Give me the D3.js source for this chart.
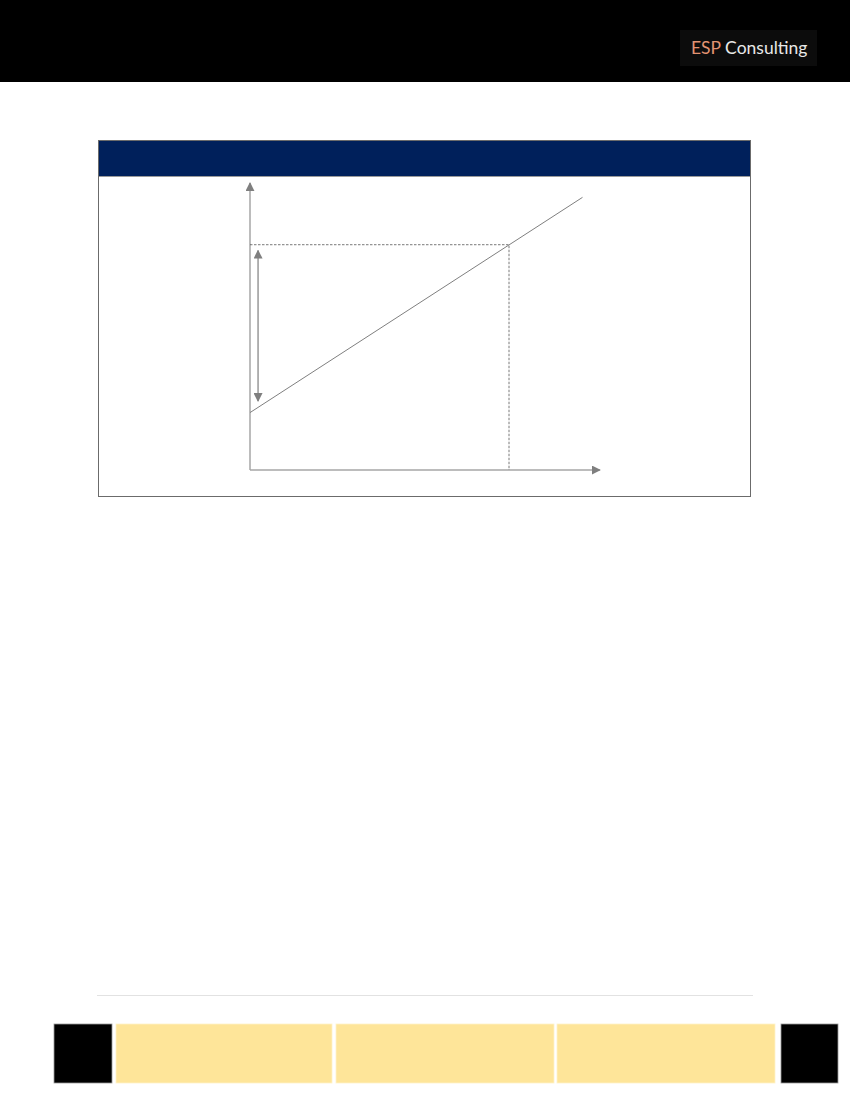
<!DOCTYPE html>
<html>
<head>
<meta charset="utf-8">
<script src="https://cdn.jsdelivr.net/npm/d3@7"></script>
<style>
  body { margin: 0; background: #fff; }
</style>
</head>
<body>
<div id="page"></div>
<script>
const page_w = 850;
const page_h = 1100;

// chart values (arbitrary units, 0-100 on both axes)
const axisMax    = [100, 100];
const linePoints = [[0, 20], [95, 95]];
const markPoint  = [74, 78.5];
const spanArrow  = [[2.3, 76.5], [2.3, 24]];
const footerBoxes = ['dark', 'light', 'light', 'light', 'dark'];

let svg = d3.select('#page')
            .append('svg')
            .attr('width', page_w)
            .attr('height', page_h);

// top banner
svg.append('rect')
   .attr('x', 0).attr('y', 0)
   .attr('width', page_w).attr('height', 82)
   .attr('fill', '#000');

svg.append('rect')
   .attr('x', 680).attr('y', 30)
   .attr('width', 137).attr('height', 36)
   .attr('fill', '#0c0c0c');

let brand = svg.append('text')
   .attr('x', 691).attr('y', 54)
   .attr('font-family', 'Lato, "Open Sans", sans-serif')
   .attr('font-size', 17.5);
brand.append('tspan').attr('fill', '#e39372').text('ESP');
brand.append('tspan').attr('fill', '#e8e8e8').text(' Consulting');

// chart frame
svg.append('rect')
   .attr('x', 98.5).attr('y', 140.5)
   .attr('width', 652).attr('height', 356)
   .attr('fill', '#fff')
   .attr('stroke', '#6b6b6b');

svg.append('rect')
   .attr('x', 99).attr('y', 141)
   .attr('width', 651).attr('height', 35)
   .attr('fill', '#00205b');

svg.append('line')
   .attr('x1', 99).attr('x2', 750)
   .attr('y1', 176.5).attr('y2', 176.5)
   .attr('stroke', '#9a9a9a');

// arrowheads
let defs = svg.append('defs');
defs.append('marker')
    .attr('id', 'head')
    .attr('viewBox', '0 0 10 10')
    .attr('refX', 9).attr('refY', 5)
    .attr('markerWidth', 9).attr('markerHeight', 9)
    .attr('markerUnits', 'userSpaceOnUse')
    .attr('orient', 'auto-start-reverse')
    .append('path')
    .attr('d', 'M0,0 L10,5 L0,10 Z')
    .attr('fill', '#7f7f7f');

let x = d3.scaleLinear().domain([0, axisMax[0]]).range([250, 600]);
let y = d3.scaleLinear().domain([0, axisMax[1]]).range([470, 183]);

let g = svg.append('g');

// axes
g.append('line')
 .attr('x1', x(0)).attr('y1', y(0))
 .attr('x2', x(0)).attr('y2', y(axisMax[1]))
 .attr('stroke', '#a6a6a6').attr('stroke-width', 1.5)
 .attr('marker-end', 'url(#head)');

g.append('line')
 .attr('x1', x(0)).attr('y1', y(0))
 .attr('x2', x(axisMax[0])).attr('y2', y(0))
 .attr('stroke', '#a6a6a6').attr('stroke-width', 1.5)
 .attr('marker-end', 'url(#head)');

// guide lines
g.append('path')
 .attr('d', d3.line()([[x(0), y(markPoint[1])], [x(markPoint[0]), y(markPoint[1])], [x(markPoint[0]), y(0)]]))
 .attr('fill', 'none')
 .attr('stroke', '#555')
 .attr('stroke-width', 0.8)
 .attr('stroke-dasharray', '2.5,1.5');

// supply line
g.append('path')
 .datum(linePoints)
 .attr('d', d3.line().x(d => x(d[0])).y(d => y(d[1])))
 .attr('fill', 'none')
 .attr('stroke', '#7f7f7f')
 .attr('stroke-width', 1);

// double arrow
g.append('line')
 .attr('x1', x(spanArrow[0][0])).attr('y1', y(spanArrow[0][1]))
 .attr('x2', x(spanArrow[1][0])).attr('y2', y(spanArrow[1][1]))
 .attr('stroke', '#7f7f7f').attr('stroke-width', 1.2)
 .attr('marker-start', 'url(#head)')
 .attr('marker-end', 'url(#head)');

// footer
svg.append('line')
   .attr('x1', 97).attr('x2', 753)
   .attr('y1', 995.5).attr('y2', 995.5)
   .attr('stroke', '#e2e2e2');

let boxX = d3.scaleOrdinal()
             .domain(d3.range(footerBoxes.length))
             .range([54, 116, 336, 557, 781]);
let boxW = [58, 216, 218, 218, 57];

svg.selectAll('rect.foot')
   .data(footerBoxes)
   .enter()
   .append('rect')
   .attr('class', 'foot')
   .attr('x', (d, i) => boxX(i))
   .attr('y', 1024)
   .attr('width', (d, i) => boxW[i])
   .attr('height', 59)
   .attr('fill', d => d === 'dark' ? '#000' : '#fee599')
   .attr('stroke', d => d === 'dark' ? '#9a9a9a' : '#fff3c9')
   .attr('stroke-width', 0.8);
</script>
</body>
</html>
